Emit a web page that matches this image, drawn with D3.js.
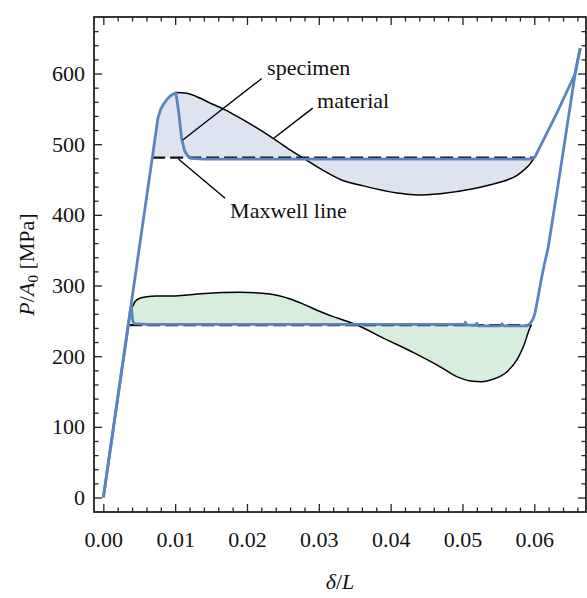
<!DOCTYPE html>
<html><head><meta charset="utf-8">
<script src="https://cdn.jsdelivr.net/npm/d3@7"></script>
<style>
html,body{margin:0;padding:0;background:#fff;}
svg text{font-family:"Liberation Serif","Times New Roman",serif;fill:#111;}
</style></head>
<body><svg id="c" width="587" height="598"></svg>
<script>
// ---- data (strain δ/L, stress P/A0 in MPa) ----
const specimenUpper = [[0,0],[0.0068,480],[0.0076,537],[0.0080,550],[0.0084,557],[0.0089,564],[0.0094,569],[0.0101,573],[0.0105,545],[0.0109,508],[0.0113,491],[0.0117,484],[0.0122,480],[0.014,479],[0.03,479],[0.045,479],[0.0596,479],[0.0601,482],[0.0630,541],[0.0657,600],[0.0664,636]];
const specimenLower = [[0,0],[0.00384,269],[0.0039,270],[0.0041,250],[0.0043,246],[0.006,245],[0.02,245],[0.035,245],[0.0500,245],[0.0503,245],[0.0504,248],[0.0506,244],[0.0518,244],[0.0520,246.5],[0.0522,243],[0.0553,243],[0.0555,246],[0.0557,243],[0.0590,243],[0.0594,246],[0.0598,252],[0.0601,261],[0.0605,282],[0.0609,305],[0.0614,330],[0.0619,352],[0.0632,435],[0.0658,607],[0.0664,636]];
const materialUpper = [[0.0068,480],[0.0076,537],[0.0080,550],[0.0084,557],[0.0089,564],[0.0094,569],[0.0101,573],[0.0116,572],[0.0135,565],[0.0149,558],[0.0167,550],[0.0185,540],[0.0204,529],[0.0237,508],[0.0260,492],[0.0279,480],[0.0306,463],[0.0330,450],[0.0362,441],[0.0409,431],[0.0437,428],[0.0469,430],[0.0515,437],[0.0548,445],[0.0576,456],[0.0594,472],[0.0601,482]];
const materialLower = [[0.0036,244],[0.00384,269],[0.0041,271],[0.0044,277],[0.0051,282],[0.0060,284],[0.0074,285],[0.0098,285],[0.0121,287],[0.0167,290],[0.0190,290.5],[0.0232,288],[0.0260,281],[0.0280,273],[0.0300,264],[0.0320,256],[0.0340,249],[0.0360,241],[0.0385,228],[0.0432,205],[0.0469,185],[0.0492,171],[0.0511,165],[0.0527,164],[0.0543,167.5],[0.0562,178],[0.0576,195],[0.0585,214],[0.0594,240],[0.0596,244]];
const maxwellUpper = {x0:0.0068, x1:0.0601, p:481};
const maxwellLower = {x0:0.0036, x1:0.0596, p:244};
const xTicks = [0,0.01,0.02,0.03,0.04,0.05,0.06];
const yTicks = [0,100,200,300,400,500,600];
const annotations = [
  {text:"specimen", tx:0.0228, tp:598, from:[0.02206,593], to:[0.01106,506]},
  {text:"material", tx:0.02976, tp:551, from:[0.02916,551], to:[0.02368,508]},
  {text:"Maxwell line", tx:0.01765, tp:395.6, from:[0.01695,423.5], to:[0.01045,479]}
];

// ---- layout ----
const L=94, R=586, T=17, B=512;
const svg = d3.select("#c");
const x = d3.scaleLinear().domain([-0.0013,0.0672]).range([L,R]);
const y = d3.scaleLinear().domain([-20.5,680]).range([B,T]);
const blue = "#5b83c2";

const line = d3.line().x(d=>x(d[0])).y(d=>y(d[1])).curve(d3.curveMonotoneX);
const areaUp = d3.area().x(d=>x(d[0])).y0(y(maxwellUpper.p)).y1(d=>y(d[1])).curve(d3.curveMonotoneX);
const areaLo = d3.area().x(d=>x(d[0])).y0(y(maxwellLower.p)).y1(d=>y(d[1])).curve(d3.curveMonotoneX);

svg.append("path").attr("d",areaUp(materialUpper)).attr("fill","#dde3ef");
svg.append("path").attr("d",areaLo(materialLower)).attr("fill","#d7eedf");

svg.append("path").attr("d",line(materialUpper.slice(6))).attr("fill","none").attr("stroke","#000").attr("stroke-width",1.5);
svg.append("path").attr("d",line(materialLower.slice(1))).attr("fill","none").attr("stroke","#000").attr("stroke-width",1.5);

[maxwellUpper,maxwellLower].forEach(m=>{
  svg.append("line").attr("x1",x(m.x0)).attr("x2",x(m.x1)).attr("y1",y(m.p)).attr("y2",y(m.p))
    .attr("stroke","#111").attr("stroke-width",2.2).attr("stroke-dasharray","13,5");
});

[specimenUpper,specimenLower].forEach(s=>{
  svg.append("path").attr("d",d3.line().x(d=>x(d[0])).y(d=>y(d[1]))(s)).attr("fill","none")
    .attr("stroke",blue).attr("stroke-width",2.8).attr("stroke-linejoin","round");
});

annotations.forEach(a=>{
  svg.append("line").attr("x1",x(a.from[0])).attr("y1",y(a.from[1])).attr("x2",x(a.to[0])).attr("y2",y(a.to[1]))
    .attr("stroke","#000").attr("stroke-width",1.4);
  svg.append("text").attr("x",x(a.tx)).attr("y",y(a.tp)).attr("font-size",22).text(a.text);
});

// ---- axes ----
const minorX = d3.range(0,0.0672,0.002).filter(v=>Math.abs(v/0.01-Math.round(v/0.01))>1e-6);
const minorY = d3.range(20,680,20).filter(v=>v%100!==0);
function styleAxis(g){ g.select(".domain").remove(); g.selectAll("line").attr("stroke","#222").attr("stroke-width",1.3); g.selectAll("text").attr("font-size",22).attr("font-family","Liberation Serif").attr("fill","#111"); }

svg.append("g").attr("transform",`translate(0,${B})`).call(d3.axisBottom(x).tickValues(xTicks).tickSize(-8).tickPadding(19).tickFormat(d3.format(".2f"))).call(styleAxis);
svg.append("g").attr("transform",`translate(0,${B})`).call(d3.axisBottom(x).tickValues(minorX).tickSize(-4.5).tickFormat("")).call(styleAxis);
svg.append("g").attr("transform",`translate(0,${T})`).call(d3.axisTop(x).tickValues(xTicks).tickSize(-8).tickFormat("")).call(styleAxis);
svg.append("g").attr("transform",`translate(0,${T})`).call(d3.axisTop(x).tickValues(minorX).tickSize(-4.5).tickFormat("")).call(styleAxis);
svg.append("g").attr("transform",`translate(${L},0)`).call(d3.axisLeft(y).tickValues(yTicks).tickSize(-8).tickPadding(9)).call(styleAxis);
svg.append("g").attr("transform",`translate(${L},0)`).call(d3.axisLeft(y).tickValues(minorY).tickSize(-4.5).tickFormat("")).call(styleAxis);
svg.append("g").attr("transform",`translate(${R},0)`).call(d3.axisRight(y).tickValues(yTicks).tickSize(-8).tickFormat("")).call(styleAxis);
svg.append("g").attr("transform",`translate(${R},0)`).call(d3.axisRight(y).tickValues(minorY).tickSize(-4.5).tickFormat("")).call(styleAxis);

svg.append("rect").attr("x",L).attr("y",T).attr("width",R-L).attr("height",B-T).attr("fill","none").attr("stroke","#222").attr("stroke-width",1.8);

// axis titles
const xl = svg.append("text").attr("x",(L+R)/2).attr("y",589).attr("text-anchor","middle").attr("font-size",22);
xl.append("tspan").attr("font-style","italic").text("δ");
xl.append("tspan").text("/");
xl.append("tspan").attr("font-style","italic").text("L");

const yl = svg.append("text").attr("transform",`translate(34,${(T+B)/2}) rotate(-90)`).attr("text-anchor","middle").attr("font-size",22);
yl.append("tspan").attr("font-style","italic").text("P");
yl.append("tspan").text("/");
yl.append("tspan").attr("font-style","italic").text("A");
yl.append("tspan").attr("font-size",15).attr("dy",4).text("0");
yl.append("tspan").attr("dy",-4).text(" [MPa]");
</script></body></html>
